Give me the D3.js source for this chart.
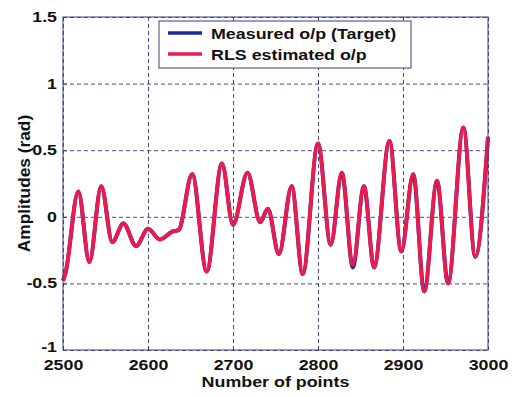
<!DOCTYPE html>
<html>
<head>
<meta charset="utf-8">
<script src="https://cdn.jsdelivr.net/npm/d3@7"></script>
<style>
  html, body { margin: 0; padding: 0; background: #fff; }
  #chart { width: 515px; height: 397px; }
  text { font-family: "Liberation Sans", Arial, sans-serif; font-weight: bold; fill: #111; }
</style>
</head>
<body>
<div id="chart"></div>
<script>
// sample positions (number of points): turning points of the signal
const samplePoints = [2500, 2503, 2518, 2531, 2545, 2558, 2571, 2586, 2600, 2614, 2629, 2636,
  2652, 2669, 2687, 2700, 2717, 2732, 2741, 2754, 2769, 2782, 2800, 2815, 2828, 2841,
  2854, 2866, 2884, 2898, 2912, 2925, 2940, 2953, 2971, 2985, 3000];

// measured o/p (target) - mostly hidden under the estimate
const measuredValues = [-0.48, -0.42, 0.19, -0.34, 0.23, -0.19, -0.05, -0.22, -0.09, -0.17, -0.11, -0.10,
  0.32, -0.41, 0.40, -0.06, 0.33, -0.04, 0.06, -0.28, 0.23, -0.43, 0.55, -0.21, 0.33, -0.38,
  0.23, -0.38, 0.57, -0.26, 0.32, -0.56, 0.27, -0.50, 0.67, -0.30, 0.60];

// RLS estimated o/p
const estimatedValues = [-0.48, -0.42, 0.19, -0.34, 0.23, -0.19, -0.05, -0.22, -0.09, -0.17, -0.11, -0.10,
  0.32, -0.41, 0.40, -0.06, 0.33, -0.04, 0.06, -0.28, 0.23, -0.43, 0.55, -0.21, 0.33, -0.36,
  0.23, -0.38, 0.57, -0.26, 0.32, -0.56, 0.27, -0.50, 0.67, -0.30, 0.60];

const xTicks = [2500, 2600, 2700, 2800, 2900, 3000];
const yTicks = [-1, -0.5, 0, 0.5, 1, 1.5];
const seriesNames = ['Measured o/p (Target)', 'RLS estimated o/p'];
const seriesColors = ['#1c2a9c', '#ee1a4c'];

const width = 515;
const height = 397;
const margin = { top: 17, right: 27, bottom: 47, left: 63 };
const axisColor = '#3c3c82';

// the reference text is wider than normal glyphs, so stretch it a bit
function stretch(sel, k) {
  sel.each(function () {
    const len = this.getComputedTextLength();
    d3.select(this).attr('textLength', len * k).attr('lengthAdjust', 'spacingAndGlyphs');
  });
}

const svg = d3.select('#chart')
  .append('svg')
  .attr('width', width)
  .attr('height', height)
  .style('display', 'block');

const chartWidth = width - margin.left - margin.right;
const chartHeight = height - margin.top - margin.bottom;

const g = svg.append('g')
  .attr('transform', `translate(${margin.left}, ${margin.top})`);

const xScale = d3.scaleLinear().domain([2500, 3000]).range([0, chartWidth]);
const yScale = d3.scaleLinear().domain([-1, 1.5]).range([chartHeight, 0]);

// Grid
g.append('g')
  .attr('class', 'grid')
  .call(d3.axisLeft(yScale).tickValues(yTicks).tickSize(-chartWidth).tickFormat(() => ''))
  .call(s => s.select('.domain').remove())
  .selectAll('line')
  .attr('stroke', '#4a4a90')
  .attr('stroke-dasharray', '4,3');

g.append('g')
  .attr('class', 'grid')
  .attr('transform', `translate(0, ${chartHeight})`)
  .call(d3.axisBottom(xScale).tickValues(xTicks).tickSize(-chartHeight).tickFormat(() => ''))
  .call(s => s.select('.domain').remove())
  .selectAll('line')
  .attr('stroke', '#4a4a90')
  .attr('stroke-dasharray', '4,3');

// Lines
const line = d3.line()
  .x(d => xScale(d[0]))
  .y(d => yScale(d[1]))
  .curve(d3.curveMonotoneX);

[measuredValues, estimatedValues].forEach((vals, i) => {
  g.append('path')
    .datum(samplePoints.map((x, j) => [x, vals[j]]))
    .attr('fill', 'none')
    .attr('stroke', seriesColors[i])
    .attr('stroke-width', i === 0 ? 4 : 3.8)
    .attr('stroke-linejoin', 'round')
    .attr('d', line);
});

// Plot box
g.append('rect')
  .attr('width', chartWidth)
  .attr('height', chartHeight)
  .attr('fill', 'none')
  .attr('stroke', axisColor)
  .attr('stroke-width', 1);

// Axes (ticks inside, MATLAB style)
const xAxis = g.append('g')
  .attr('transform', `translate(0, ${chartHeight})`)
  .call(d3.axisBottom(xScale).tickValues(xTicks).tickSize(-4).tickPadding(10).tickFormat(d3.format('d')));
const yAxis = g.append('g')
  .call(d3.axisLeft(yScale).tickValues(yTicks).tickSize(-4).tickPadding(6).tickFormat(d => String(d)));

[xAxis, yAxis].forEach(ax => {
  ax.select('.domain').remove();
  ax.selectAll('line').attr('stroke', axisColor);
  ax.selectAll('text').attr('font-size', 14).attr('fill', '#111').call(stretch, 1.27);
});
// lowest y label sits just above the first x label
yAxis.selectAll('.tick text').filter(d => d === -1).attr('dy', '0.1em');

// Axis titles
svg.append('text')
  .attr('x', margin.left + chartWidth / 2)
  .attr('y', 387)
  .attr('text-anchor', 'middle')
  .attr('font-size', 15)
  .text('Number of points')
  .call(stretch, 1.19);

svg.append('text')
  .attr('transform', `translate(30, ${margin.top + chartHeight / 2}) rotate(-90)`)
  .attr('text-anchor', 'middle')
  .attr('font-size', 16)
  .text('Amplitudes (rad)')
  .call(stretch, 1.08);

// Legend
const legend = svg.append('g').attr('class', 'legend');
legend.append('rect')
  .attr('x', 159)
  .attr('y', 21)
  .attr('width', 252)
  .attr('height', 47)
  .attr('fill', '#fff')
  .attr('stroke', axisColor)
  .attr('stroke-width', 1);

seriesNames.forEach((name, i) => {
  const cy = 33 + i * 21;
  legend.append('line')
    .attr('x1', 168).attr('x2', 202)
    .attr('y1', cy).attr('y2', cy)
    .attr('stroke', seriesColors[i])
    .attr('stroke-width', 3.5);
  legend.append('text')
    .attr('x', 211)
    .attr('y', cy + 6)
    .attr('font-size', 15)
    .text(name)
    .call(stretch, 1.19);
});
</script>
</body>
</html>
